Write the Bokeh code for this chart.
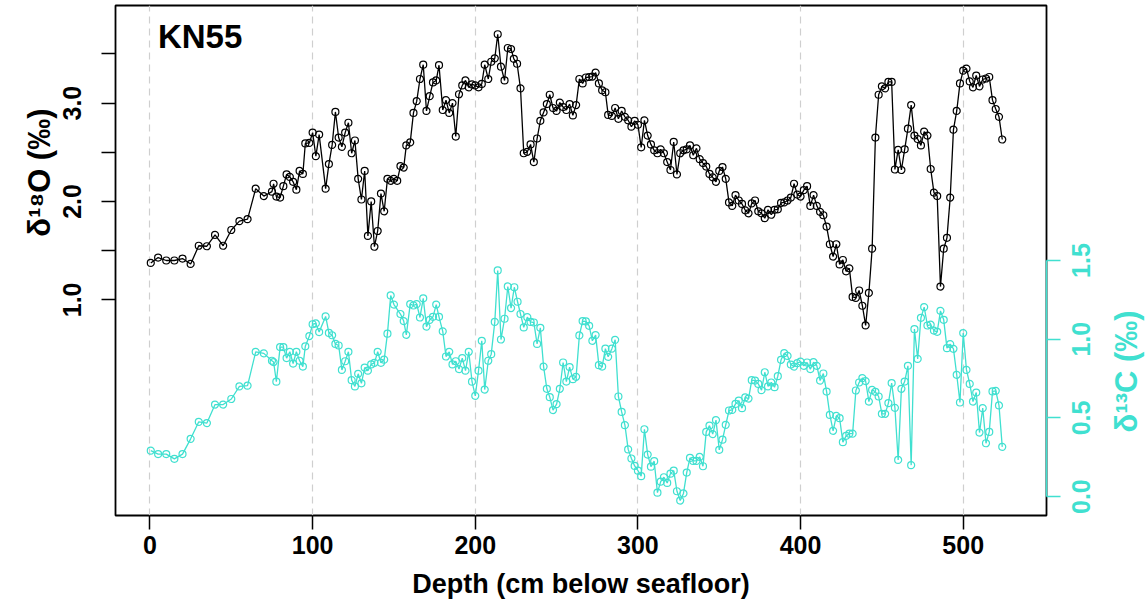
import math

from bokeh.embed import file_html
from bokeh.layouts import row
from bokeh.models import (CustomJSTickFormatter, FixedTicker, Label, LinearAxis,
                          Range1d, Title)
from bokeh.plotting import figure
from bokeh.resources import INLINE

# Core KN55: stable isotope records against depth (cm below seafloor)
depth_o = [0.5, 5, 10, 15, 20, 25, 30, 35, 40, 45, 50, 55, 60, 65, 70, 75, 76, 77.7, 80, 82,
           84, 86, 88, 90, 92, 94, 95.5, 98, 100, 102, 104, 108, 110, 112, 114, 116, 118, 120, 122, 124,
           126, 128, 130, 132, 134, 136, 138, 140, 142, 144, 146, 148, 150, 152, 154, 156, 157.6, 160, 162, 164,
           166, 168, 170, 172, 174, 176, 177.7, 180, 182, 184, 186, 188, 190, 192, 194, 196, 198, 200, 202, 204,
           205.8, 208, 209.8, 212, 213.8, 215.8, 218, 220, 222, 223.7, 225.7, 227.8, 229.8, 232, 234, 236, 238, 240, 242, 244,
           245.8, 247.8, 250, 252, 254, 256, 258, 260, 262, 264, 266, 268, 270, 272, 274, 276, 278, 280, 281.7, 284,
           286, 288, 290, 292, 294, 296, 298, 300, 302, 304, 306, 308, 310, 312, 314, 316, 318, 320, 322, 324,
           326, 328, 330, 332, 334, 336, 338, 340, 342, 344, 346, 348, 350, 352, 354, 356, 358, 360, 362, 364,
           366, 368, 370, 372, 374, 376, 378, 380, 382, 384, 386, 388, 390, 392, 394, 396, 398, 400, 402, 404,
           406, 408, 410, 412, 414, 416, 418, 420, 422, 424, 426, 428, 430, 432, 434, 436, 438, 440, 442, 444,
           446, 448, 450, 452, 454, 456, 458, 460, 462, 464, 466, 468, 470, 472, 474, 476, 478, 480, 482, 484,
           486, 488, 490, 492, 494, 496, 498, 500, 502, 504, 506, 508, 510, 512, 514, 516, 518, 520, 522, 524]
d18o = [1.375, 1.43, 1.40, 1.40, 1.42, 1.365, 1.55, 1.545, 1.66, 1.55, 1.71, 1.80, 1.82, 2.13, 2.055, 2.10, 2.18, 2.05, 2.04, 2.156,
        2.275, 2.25, 2.20, 2.12, 2.31, 2.28, 2.59, 2.595, 2.70, 2.46, 2.68, 2.13, 2.38, 2.575, 2.91, 2.65, 2.555, 2.70, 2.80, 2.49,
        2.62, 2.23, 2.02, 2.31, 1.65, 2.00, 1.54, 1.70, 2.08, 1.90, 2.23, 2.21, 2.23, 2.21, 2.36, 2.345, 2.57, 2.60, 2.90, 3.02,
        3.245, 3.39, 2.92, 3.07, 3.21, 3.23, 3.385, 2.93, 3.03, 2.90, 3.00, 2.66, 3.09, 3.18, 3.23, 3.16, 3.19, 3.18, 3.16, 3.195,
        3.39, 3.245, 3.42, 3.455, 3.70, 3.37, 3.23, 3.56, 3.55, 3.45, 3.40, 3.15, 2.49, 2.505, 2.58, 2.40, 2.64, 2.82, 2.905, 2.99,
        3.085, 2.95, 2.92, 3.005, 2.96, 2.93, 2.99, 2.875, 2.98, 3.245, 3.20, 3.26, 3.265, 3.27, 3.31, 3.20, 3.13, 3.11, 2.88, 2.87,
        2.95, 2.84, 2.92, 2.86, 2.825, 2.76, 2.82, 2.78, 2.55, 2.825, 2.67, 2.58, 2.52, 2.49, 2.53, 2.49, 2.40, 2.32, 2.605, 2.275,
        2.49, 2.52, 2.53, 2.57, 2.47, 2.54, 2.43, 2.39, 2.355, 2.28, 2.245, 2.20, 2.31, 2.35, 2.23, 1.99, 1.955, 2.065, 2.01, 1.975,
        1.91, 1.88, 1.98, 2.01, 1.90, 1.88, 1.83, 1.915, 1.865, 1.915, 1.92, 1.985, 1.99, 2.01, 2.04, 2.18, 2.07, 2.05, 2.115, 2.155,
        1.955, 2.065, 1.955, 1.895, 1.86, 1.745, 1.565, 1.44, 1.565, 1.36, 1.405, 1.29, 1.32, 1.03, 1.02, 1.095, 0.94, 0.74, 1.07, 1.52,
        2.65, 3.085, 3.17, 3.15, 3.215, 3.215, 2.325, 2.525, 2.32, 2.53, 2.74, 2.98, 2.67, 2.635, 2.57, 2.71, 2.67, 2.33, 2.09, 2.055,
        1.135, 1.52, 1.63, 2.04, 2.73, 2.92, 3.20, 3.33, 3.35, 3.22, 3.16, 3.28, 3.17, 3.24, 3.25, 3.265, 3.03, 2.94, 2.86, 2.63]

depth_c = [0.5, 5, 10, 15, 20, 25, 30, 35, 40, 45, 50, 55, 60, 65, 70, 75, 76, 77.7, 80, 82,
           84, 86, 88, 90, 92, 94, 95.5, 98, 100, 102, 104, 108, 110, 112, 114, 116, 118, 120, 122, 124,
           126, 128, 130, 132, 134, 136, 138, 140, 142, 144, 146, 148, 150, 154, 156, 157.6, 160, 162, 164, 166,
           168, 170, 172, 174, 176, 177.7, 180, 182, 184, 186, 188, 190, 192, 194, 196, 198, 200, 202, 204, 205.8,
           208, 209.8, 212, 213.8, 215.8, 218, 220, 222, 224, 226, 227.8, 229.8, 232, 234, 236, 238, 240, 242, 244, 245.8,
           247.8, 250, 252, 254, 256, 258, 260, 262, 264, 266, 268, 270, 272, 274, 276, 278, 280, 281.7, 284, 286,
           288, 290, 292, 294, 296, 298, 300, 302, 304, 306, 308, 310, 312, 314, 316, 318, 320, 322, 324, 326,
           328, 330, 332, 334, 336, 338, 340, 342, 344, 346, 348, 350, 352, 354, 356, 358, 360, 362, 364, 366,
           368, 370, 372, 374, 376, 378, 380, 382, 384, 386, 388, 390, 392, 394, 396, 398, 400, 402, 404, 406,
           408, 410, 412, 414, 416, 418, 420, 422, 424, 426, 428, 430, 432, 434, 436, 438, 440, 442, 444, 446,
           448, 450, 452, 454, 456, 458, 460, 462, 464, 466, 468, 470, 472, 474, 476, 478, 480, 482, 484, 486,
           488, 490, 492, 494, 496, 498, 500, 502, 504, 506, 508, 510, 512, 514, 516, 518, 520, 522, 524]
d13c = [0.292, 0.27, 0.27, 0.24, 0.27, 0.367, 0.475, 0.467, 0.585, 0.585, 0.62, 0.70, 0.705, 0.92, 0.91, 0.863, 0.855, 0.73, 0.95, 0.95,
        0.88, 0.92, 0.845, 0.92, 0.863, 0.826, 0.955, 1.02, 1.095, 1.10, 1.045, 1.145, 1.04, 1.025, 0.97, 0.96, 0.805, 0.86, 0.92, 0.74,
        0.70, 0.78, 0.72, 0.82, 0.80, 0.84, 0.85, 0.92, 0.85, 0.87, 1.035, 1.278, 1.22, 1.16, 1.115, 1.028, 1.223, 1.214, 1.223, 1.138,
        1.26, 1.08, 1.123, 1.142, 1.22, 1.142, 1.05, 0.89, 0.92, 0.84, 0.86, 0.81, 0.88, 0.80, 0.92, 0.73, 0.64, 0.80, 0.99, 0.68,
        0.863, 0.905, 1.11, 1.437, 0.998, 1.13, 1.335, 1.198, 1.33, 1.238, 1.16, 1.075, 1.14, 1.11, 1.106, 0.97, 1.072, 0.826, 0.685, 0.632,
        0.55, 0.587, 0.685, 0.852, 0.731, 0.823, 0.746, 0.761, 1.024, 1.115, 1.113, 1.085, 0.99, 1.026, 0.835, 0.826, 0.94, 0.888, 0.94, 0.996,
        0.636, 0.538, 0.454, 0.30, 0.242, 0.195, 0.165, 0.13, 0.428, 0.267, 0.19, 0.225, 0.025, 0.095, 0.123, 0.087, 0.146, 0.165, 0.034, -0.025,
        0.02, 0.153, 0.246, 0.227, 0.227, 0.252, 0.193, 0.411, 0.451, 0.397, 0.486, 0.297, 0.362, 0.456, 0.547, 0.551, 0.589, 0.61, 0.562, 0.63,
        0.623, 0.74, 0.737, 0.716, 0.676, 0.79, 0.70, 0.725, 0.695, 0.765, 0.869, 0.911, 0.894, 0.839, 0.826, 0.848, 0.858, 0.831, 0.852, 0.81,
        0.854, 0.831, 0.737, 0.782, 0.667, 0.519, 0.418, 0.513, 0.498, 0.346, 0.386, 0.40, 0.40, 0.674, 0.725, 0.753, 0.734, 0.604, 0.678, 0.666,
        0.636, 0.526, 0.526, 0.594, 0.721, 0.564, 0.233, 0.685, 0.731, 0.831, 0.20, 1.064, 0.875, 1.136, 1.204, 1.087, 1.092, 1.055, 1.047, 1.18,
        1.123, 0.943, 0.969, 0.939, 0.774, 0.598, 1.039, 0.805, 0.716, 0.604, 0.661, 0.407, 0.562, 0.339, 0.411, 0.668, 0.672, 0.579, 0.316]

depth_ticks = [0, 100, 200, 300, 400, 500]
d18o_ticks = [1.0, 1.5, 2.0, 2.5, 3.0, 3.5]
d18o_tick_labels = {1.0: "1.0", 1.5: "", 2.0: "2.0", 2.5: "", 3.0: "3.0", 3.5: ""}
d13c_ticks = [0.0, 0.5, 1.0, 1.5]

FONT = "Liberation Sans"
TEAL = "#40E0D0"

# half the length of a rotated "0.0" label, in δ13C units, so labels sit centred on ticks
C_LABEL_SHIFT = 0.1104

p = figure(width=1110, height=605, output_backend="svg", toolbar_location=None,
           x_range=Range1d(-21.2, 551.2), y_range=Range1d(-1.192, 3.992),
           min_border_left=115, min_border_right=64, min_border_top=5, min_border_bottom=90)
p.extra_y_ranges = {"c": Range1d(-0.12, 3.12)}

p.outline_line_color = "black"
p.outline_line_width = 1.8
p.background_fill_color = "white"
p.border_fill_color = "white"

# vertical dashed grid at the depth ticks only
p.ygrid.visible = False
p.xgrid.ticker = FixedTicker(ticks=depth_ticks)
p.xgrid.grid_line_color = "#cfcfcf"
p.xgrid.grid_line_width = 1.2
p.xgrid.grid_line_dash = "7 5"


def style_axis(ax, color):
    ax.major_tick_in = 0
    ax.major_tick_out = 14
    ax.major_tick_line_width = 1.5
    ax.major_tick_line_color = color
    ax.minor_tick_line_color = None
    ax.major_label_text_font = FONT
    ax.major_label_text_font_style = "bold"
    ax.major_label_text_font_size = "25px"
    ax.major_label_text_color = color
    ax.axis_label_text_font = FONT
    ax.axis_label_text_font_style = "bold"
    ax.axis_label_text_color = color


xaxis = p.xaxis[0]
xaxis.ticker = FixedTicker(ticks=depth_ticks)
style_axis(xaxis, "black")
xaxis.axis_line_color = None
xaxis.major_label_standoff = 6
xaxis.axis_label = "Depth (cm below seafloor)"
xaxis.axis_label_text_font_size = "27px"
xaxis.axis_label_standoff = 12

yaxis = p.yaxis[0]
yaxis.ticker = FixedTicker(ticks=d18o_ticks)
yaxis.major_label_overrides = d18o_tick_labels
style_axis(yaxis, "black")
yaxis.axis_line_color = None
yaxis.major_label_orientation = "parallel"
yaxis.major_label_standoff = 20

# δ18O title, raised to sit beside the labelled part of the scale
p.add_layout(Title(text="δ¹⁸O (‰)", align="right", offset=103, standoff=8,
                   text_font=FONT, text_font_style="bold", text_font_size="31px",
                   text_color="black"), "left")

# right axis for δ13C: ticks and line over 0.0-1.5 ...
caxis = LinearAxis(y_range_name="c", ticker=FixedTicker(ticks=d13c_ticks),
                   formatter=CustomJSTickFormatter(code="return '';"), bounds=(0.0, 1.5))
style_axis(caxis, TEAL)
caxis.axis_line_color = TEAL
caxis.axis_line_width = 1.5
caxis.major_label_text_font_size = "1px"
caxis.major_label_standoff = 0
p.add_layout(caxis, "right")

# ... and its labels, turned to read upwards and centred on the ticks
clabels = LinearAxis(y_range_name="c",
                     ticker=FixedTicker(ticks=[t - C_LABEL_SHIFT for t in d13c_ticks]),
                     formatter=CustomJSTickFormatter(code="return (tick + %s).toFixed(1);" % C_LABEL_SHIFT))
style_axis(clabels, TEAL)
clabels.axis_line_color = None
clabels.major_tick_line_color = None
clabels.major_tick_out = 0
clabels.major_label_orientation = math.pi / 2
clabels.major_label_standoff = 21
p.add_layout(clabels, "right")

# δ18O series
p.line(depth_o, d18o, line_color="black", line_width=1.3)
p.scatter(depth_o, d18o, marker="circle", size=7, fill_color=None,
          line_color="black", line_width=1.2)

# δ13C series on the secondary axis
p.line(depth_c, d13c, line_color=TEAL, line_width=1.3, y_range_name="c")
p.scatter(depth_c, d13c, marker="circle", size=7, fill_color=None,
          line_color=TEAL, line_width=1.2, y_range_name="c")

# core name
p.add_layout(Label(x=4.9, y=3.673, text="KN55", text_align="left", text_baseline="alphabetic",
                   text_font=FONT, text_font_style="bold", text_font_size="33px",
                   text_color="black"))

# narrow strip to the right carrying the δ13C title (pixel coordinates, y down)
strip = figure(width=36, height=605, output_backend="svg", toolbar_location=None,
               x_range=Range1d(0, 36), y_range=Range1d(605, 0),
               x_axis_type=None, y_axis_type=None, min_border=0)
strip.outline_line_color = None
strip.grid.visible = False
strip.background_fill_color = "white"
strip.border_fill_color = "white"
strip.add_layout(Label(x=16, y=434, text="δ¹³C (‰)", angle=math.pi / 2,
                       text_align="center", text_baseline="middle", text_font=FONT,
                       text_font_style="bold", text_font_size="31px", text_color=TEAL))

layout = row(p, strip, spacing=0)
open("out.html", "w").write(file_html(layout, INLINE))
